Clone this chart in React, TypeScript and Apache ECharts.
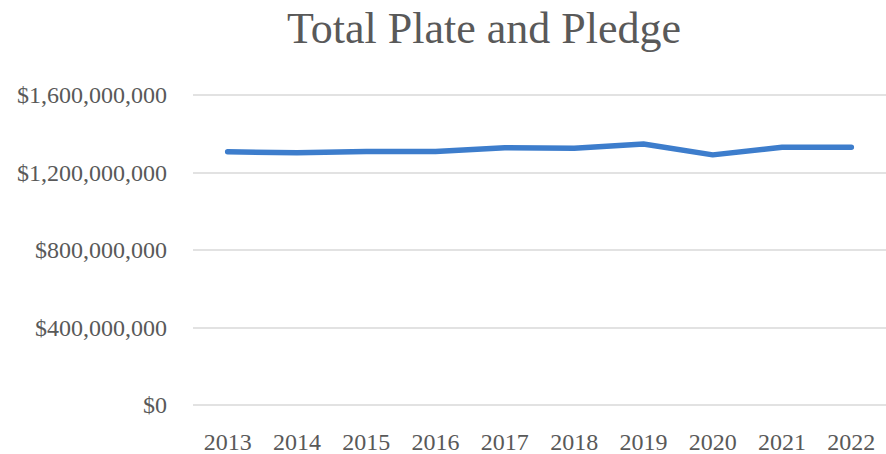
import React, { useEffect, useRef } from "react";
import * as echarts from "echarts";

const years = ["2013", "2014", "2015", "2016", "2017", "2018", "2019", "2020", "2021", "2022"];
const totals = [1307000000, 1302000000, 1308000000, 1308000000, 1328000000, 1325000000, 1347000000, 1291000000, 1330000000, 1330000000];
const yTicks = { min: 0, max: 1600000000, interval: 400000000 };
const titleText = "Total Plate and Pledge";

const fmt = (v: number) => "$" + v.toLocaleString("en-US");

export default function App() {
  const ref = useRef<HTMLDivElement>(null);
  useEffect(() => {
    if (!ref.current) return;
    const chart = echarts.init(ref.current, undefined, { renderer: "svg" });
    const font = "'Liberation Serif', 'DejaVu Serif', serif";
    chart.setOption({
      animation: false,
      backgroundColor: "#ffffff",
      title: {
        text: titleText,
        left: 479,
        top: 1,
        textAlign: "center",
        textStyle: { fontFamily: font, fontSize: 44, fontWeight: "normal", color: "#595959" },
      },
      grid: { left: 193, right: -14, top: 95, bottom: 454 - 407 },
      xAxis: {
        type: "category",
        data: years,
        boundaryGap: true,
        axisLine: { show: false },
        axisTick: { show: false },
        axisLabel: { fontFamily: font, fontSize: 24, color: "#595959", margin: 25 },
      },
      yAxis: {
        type: "value",
        min: yTicks.min,
        max: yTicks.max,
        interval: yTicks.interval,
        axisLine: { show: false },
        axisTick: { show: false },
        splitLine: { lineStyle: { color: "#d9d9d9", width: 1.5 } },
        axisLabel: { fontFamily: font, fontSize: 24, color: "#595959", margin: 26, formatter: (v: number) => fmt(v) },
      },
      series: [
        {
          type: "line",
          data: totals,
          symbol: "none",
          lineStyle: { color: "#3d7dcc", width: 5.5, cap: "round", join: "round" },
        },
      ],
    });
    return () => chart.dispose();
  }, []);
  return <div ref={ref} style={{ position: "fixed", left: 0, top: 0, width: 886, height: 454 }} />;
}
